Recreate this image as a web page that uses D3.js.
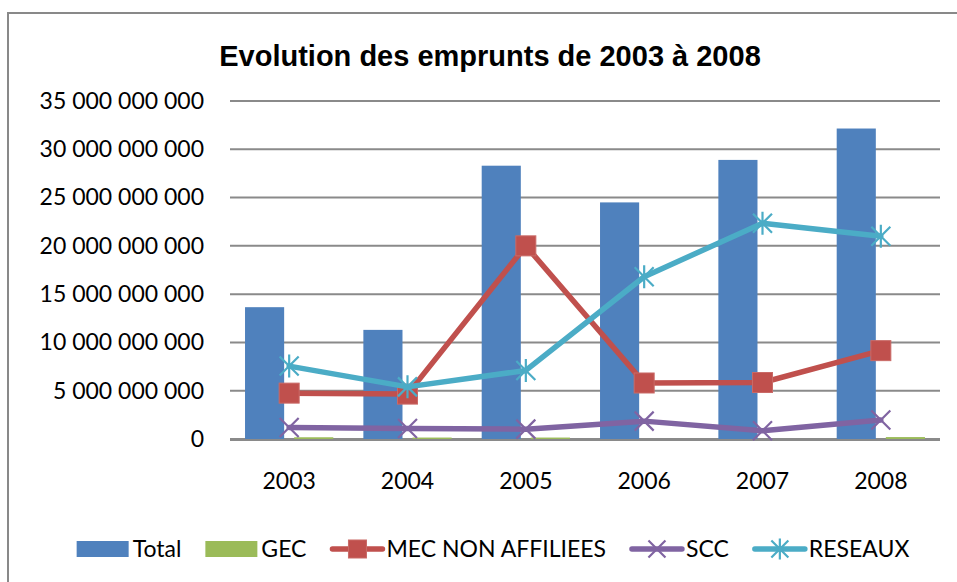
<!DOCTYPE html>
<html>
<head>
<meta charset="utf-8">
<script src="https://cdn.jsdelivr.net/npm/d3@7"></script>
<style>
  html, body { margin: 0; padding: 0; background: #fff; }
  svg { display: block; }
  .tick-label { font-family: Lato, "Open Sans", sans-serif; font-size: 23px; fill: #000; }
  .chart-title { font-family: "Liberation Sans", Arial, sans-serif; font-weight: bold; font-size: 29px; fill: #000; }
</style>
</head>
<body>
<div id="chart"></div>
<script>
// values
const years = ["2003", "2004", "2005", "2006", "2007", "2008"];
const total = [13.65e9, 11.3e9, 28.3e9, 24.5e9, 28.9e9, 32.15e9];
const gec = [0.18e9, 0.15e9, 0.15e9, 0, 0, 0.2e9];
const mecNonAffiliees = [4.75e9, 4.65e9, 20.0e9, 5.8e9, 5.85e9, 9.15e9];
const scc = [1.2e9, 1.08e9, 1.02e9, 1.85e9, 0.85e9, 1.97e9];
const reseaux = [7.55e9, 5.4e9, 7.1e9, 16.8e9, 22.35e9, 21.0e9];
const yTicks = [0, 5e9, 10e9, 15e9, 20e9, 25e9, 30e9, 35e9];

const barSeries = [
  { name: "Total", values: total, color: "#4F81BD" },
  { name: "GEC", values: gec, color: "#9BBB59" },
];
const lineSeries = [
  { name: "MEC NON AFFILIEES", values: mecNonAffiliees, color: "#C0504D", marker: "square" },
  { name: "SCC", values: scc, color: "#8064A2", marker: "cross" },
  { name: "RESEAUX", values: reseaux, color: "#4BACC6", marker: "star" },
];

const width = 957;
const height = 582;
const margin = { top: 101, right: 17, bottom: 143, left: 230 };

const svg = d3.select("#chart")
  .append("svg")
  .attr("width", width)
  .attr("height", height);

// chart frame (runs off the right and bottom of the picture)
svg.append("rect")
  .attr("x", 8).attr("y", 13)
  .attr("width", width + 20).attr("height", height + 20)
  .attr("fill", "#fff")
  .attr("stroke", "#898989")
  .attr("stroke-width", 2);

svg.append("text")
  .attr("class", "chart-title")
  .attr("x", 490)
  .attr("y", 66)
  .attr("text-anchor", "middle")
  .text("Evolution des emprunts de 2003 à 2008");

const x = d3.scaleBand()
  .domain(years)
  .range([margin.left, width - margin.right]);

const x1 = d3.scaleBand()
  .domain(barSeries.map((s) => s.name))
  .range([x.bandwidth() * 0.127, x.bandwidth() * 0.873])
  .paddingInner(0.204);

const y = d3.scaleLinear()
  .domain([0, 35e9])
  .range([height - margin.bottom, margin.top]);

const locale = d3.formatLocale({ decimal: ",", thousands: " ", grouping: [3], currency: ["", " €"] });
const fmt = locale.format(",");

// gridlines
svg.append("g")
  .selectAll("line")
  .data(yTicks)
  .join("line")
  .attr("x1", margin.left)
  .attr("x2", width - margin.right)
  .attr("y1", (d) => y(d))
  .attr("y2", (d) => y(d))
  .attr("stroke", "#8a8a8a")
  .attr("stroke-width", 2);

// y axis labels
svg.append("g")
  .attr("transform", `translate(${margin.left},0)`)
  .call(d3.axisLeft(y).tickValues(yTicks).tickFormat(fmt).tickSize(0).tickPadding(26))
  .call((g) => g.select(".domain").remove())
  .call((g) => g.selectAll("text").attr("class", "tick-label").attr("fill", null));

// x axis labels
svg.append("g")
  .attr("transform", `translate(0,${y(0)})`)
  .call(d3.axisBottom(x).tickSize(0).tickPadding(34))
  .call((g) => g.select(".domain").remove())
  .call((g) => g.selectAll("text").attr("class", "tick-label").attr("fill", null));

// bars
svg.append("g")
  .selectAll("g")
  .data(barSeries)
  .join("g")
  .attr("fill", (s) => s.color)
  .selectAll("rect")
  .data((s) => s.values.map((v, i) => ({ name: s.name, year: years[i], value: v })))
  .join("rect")
  .attr("x", (d) => x(d.year) + x1(d.name))
  .attr("width", x1.bandwidth())
  .attr("y", (d) => y(d.value))
  .attr("height", (d) => y(0) - y(d.value));

// baseline on top of bars
svg.append("line")
  .attr("x1", margin.left).attr("x2", width - margin.right)
  .attr("y1", y(0) + 1).attr("y2", y(0) + 1)
  .attr("stroke", "#8a8a8a").attr("stroke-width", 2);

function drawMarker(g, type, color, size) {
  const h = size / 2;
  if (type === "square") {
    g.append("rect")
      .attr("x", -h).attr("y", -h).attr("width", size).attr("height", size)
      .attr("fill", color).attr("stroke", "#c96a67").attr("stroke-width", 1);
  } else {
    const path = d3.path();
    path.moveTo(-h, -h); path.lineTo(h, h);
    path.moveTo(-h, h); path.lineTo(h, -h);
    if (type === "star") { path.moveTo(0, -h - 2); path.lineTo(0, h + 2); }
    g.append("path")
      .attr("d", path.toString())
      .attr("stroke", color).attr("stroke-width", 2.2).attr("fill", "none");
  }
}

const cx = (i) => x(years[i]) + x.bandwidth() / 2;

const line = d3.line()
  .x((d, i) => cx(i))
  .y((d) => y(d));

lineSeries.forEach((s) => {
  const g = svg.append("g");
  g.append("path")
    .datum(s.values)
    .attr("d", line)
    .attr("fill", "none")
    .attr("stroke", s.color)
    .attr("stroke-width", 5.5)
    .attr("stroke-linejoin", "round")
    .attr("stroke-linecap", "round");
  s.values.forEach((v, i) => {
    const m = g.append("g").attr("transform", `translate(${cx(i)},${y(v)})`);
    drawMarker(m, s.marker, s.color, s.marker === "square" ? 20 : 19);
  });
});

// legend
const legendY = 549;
const legendGap = 24;
const legend = svg.append("g").attr("class", "legend");
const items = [
  ...barSeries.map((s) => ({ name: s.name, color: s.color, kind: "bar" })),
  ...lineSeries.map((s) => ({ name: s.name, color: s.color, kind: "line", marker: s.marker })),
];
let cursor = 0;
items.forEach((item) => {
  const g = legend.append("g").attr("transform", `translate(${cursor},${legendY})`);
  if (item.kind === "bar") {
    g.append("rect").attr("x", 0).attr("y", -8).attr("width", 52).attr("height", 16).attr("fill", item.color);
  } else {
    g.append("line").attr("x1", 2).attr("x2", 52).attr("y1", 0).attr("y2", 0)
      .attr("stroke", item.color).attr("stroke-width", 5.5).attr("stroke-linecap", "round");
    const m = g.append("g").attr("transform", "translate(27,0)");
    drawMarker(m, item.marker, item.color, item.marker === "square" ? 18 : 17);
  }
  const t = g.append("text")
    .attr("class", "tick-label")
    .attr("x", 56)
    .attr("dy", "0.36em")
    .text(item.name);
  cursor += 56 + t.node().getComputedTextLength() + legendGap;
});
const legendWidth = cursor - legendGap;
legend.attr("transform", `translate(${493 - legendWidth / 2},0)`);
</script>
</body>
</html>
